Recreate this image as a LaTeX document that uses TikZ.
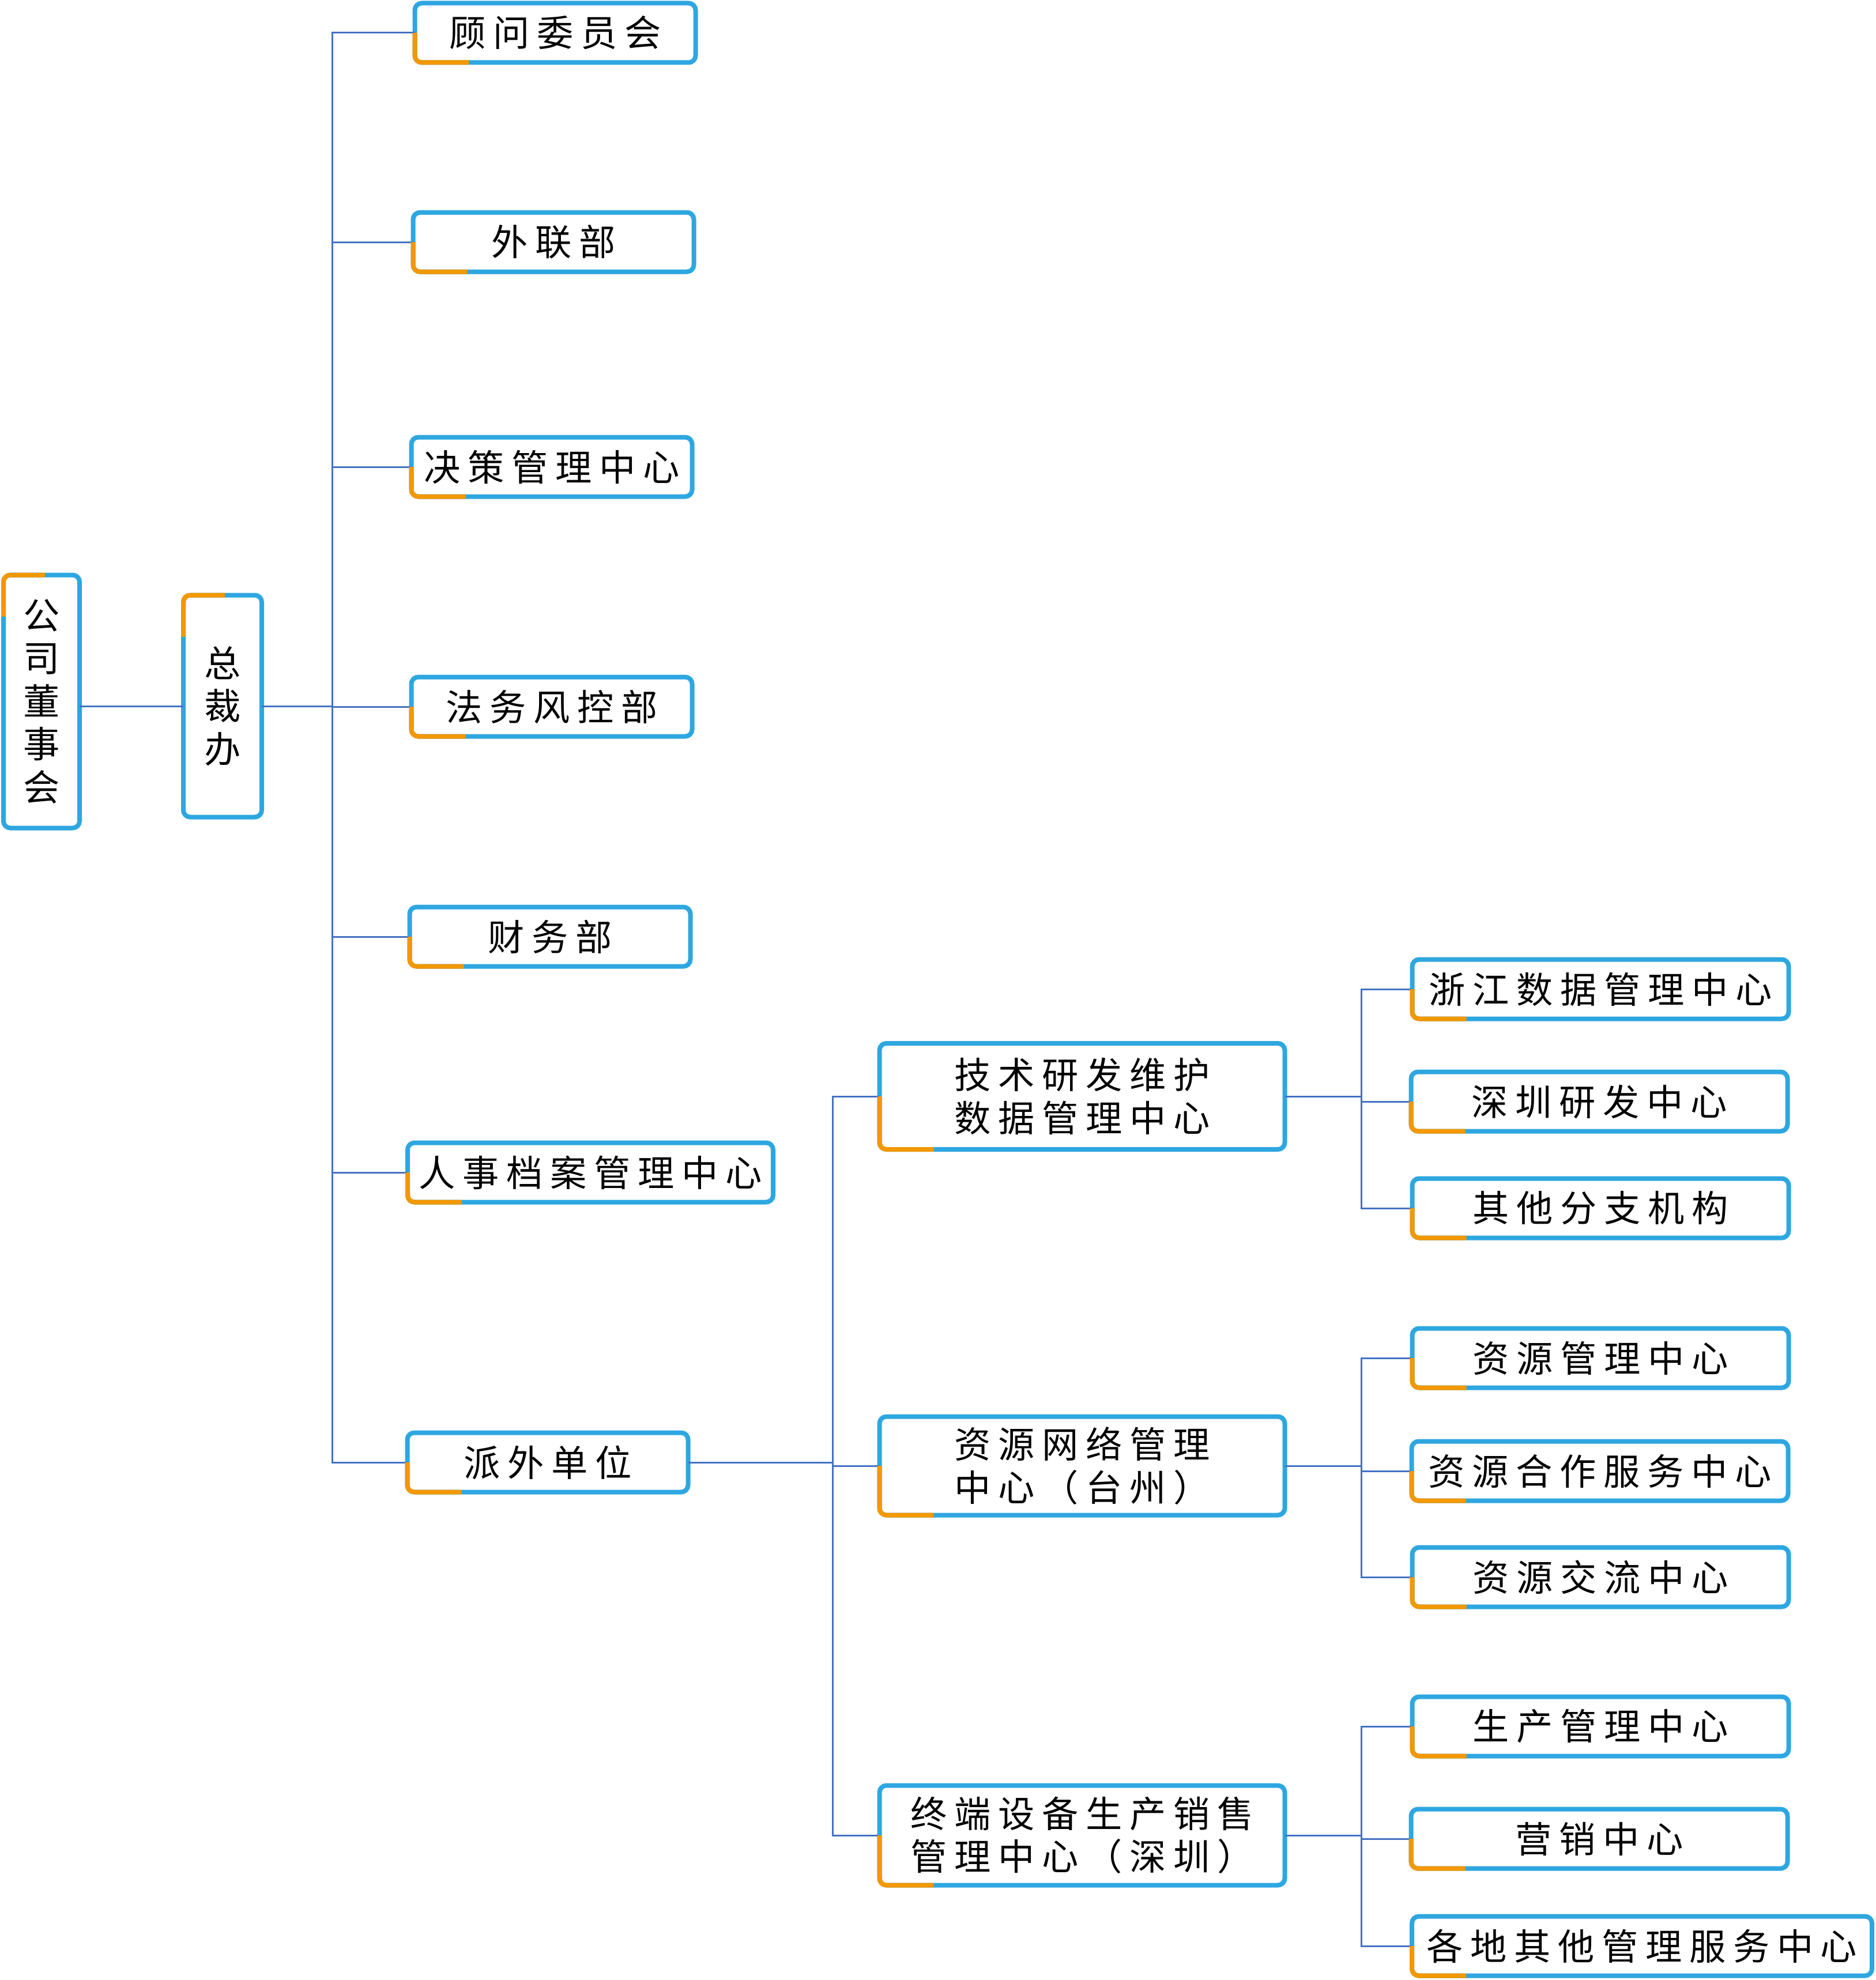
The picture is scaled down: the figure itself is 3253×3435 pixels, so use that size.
\documentclass[tikz,border=0pt]{standalone}
\usepackage{fontspec}
\newfontfamily\cjkfont[LetterSpace=20]{Noto Sans CJK SC}
\newfontfamily\cjkstack{Noto Sans CJK SC}
\definecolor{boxblue}{RGB}{46,167,224}
\definecolor{tagorange}{RGB}{243,152,0}
\definecolor{linkblue}{RGB}{68,114,196}

\begin{document}
\begin{tikzpicture}[x=0.1mm,y=-0.1mm,
		unit/.style={draw=boxblue,line width=0.8mm,rounded corners=1.2mm,fill=white,outer sep=0pt,inner sep=0pt,align=center,font={\fontsize{18pt}{21.2pt}\selectfont\cjkfont}},
		stack/.style={unit,font={\fontsize{18pt}{21.2pt}\selectfont\cjkstack}},
		dept/.style={unit,minimum width=48.7mm,minimum height=10.3mm},
		centre/.style={unit,minimum width=70.3mm},
		branch/.style={unit,minimum width=65.3mm,minimum height=10.3mm},
		link/.style={draw=linkblue,line width=0.3mm},
		tag/.style={draw=tagorange,line width=0.8mm,rounded corners=1.2mm}]

	\useasboundingbox (0,0) rectangle (3253,3435);

	\node[stack,minimum width=13.2mm,minimum height=43.9mm] (board) at (72,1217) {公\\司\\董\\事\\会};
	\node[stack,minimum width=13.6mm,minimum height=38.5mm] (ceo) at (386,1225) {总\\裁\\办};

	\node[dept] (advisor) at (963,57) {顾问委员会};
	\node[dept] (liaison) at (960,420) {外联部};
	\node[dept] (decision) at (957,810) {决策管理中心};
	\node[dept] (legal) at (957,1226) {法务风控部};
	\node[dept] (finance) at (954,1625) {财务部};
	\node[dept,minimum width=63.4mm] (archive) at (1024,2034) {人事档案管理中心};
	\node[dept] (dispatch) at (950,2537) {派外单位};

	\node[centre,minimum height=18.4mm] (tech) at (1877,1902) {技术研发维护\\数据管理中心};
	\node[centre,minimum height=17.1mm] (resnet) at (1877,2543) {资源网络管理\\中心（台州）};
	\node[centre,minimum height=17.3mm] (terminal) at (1877,3184) {终端设备生产销售\\管理中心（深圳）};

	\node[branch] (zjdata) at (2776,1716) {浙江数据管理中心};
	\node[branch] (szrd) at (2774,1911) {深圳研发中心};
	\node[branch] (others) at (2776,2096) {其他分支机构};

	\node[branch] (resmgmt) at (2776,2356) {资源管理中心};
	\node[branch] (rescoop) at (2775,2552) {资源合作服务中心};
	\node[branch] (resexch) at (2776,2736) {资源交流中心};

	\node[branch] (prod) at (2776,2995) {生产管理中心};
	\node[branch] (sales) at (2774,3190) {营销中心};
	\node[branch,minimum width=79.8mm] (regional) at (2848,3376) {各地其他管理服务中心};

	\coordinate (t1) at (ceo.east -| 576,0);
	\coordinate (t2) at (dispatch.east -| 1444,0);
	\coordinate (t3) at (tech.east -| 2361,0);
	\coordinate (t4) at (resnet.east -| 2361,0);
	\coordinate (t5) at (terminal.east -| 2361,0);

	\draw[link] (ceo.west -| board.east) -- (ceo.west);
	\draw[link] (ceo.east) -- (t1);
	\foreach \n in {advisor,liaison,decision,legal,finance,archive,dispatch}
		\draw[link] (t1) |- (\n.west);

	\draw[link] (dispatch.east) -- (t2);
	\foreach \n in {tech,resnet,terminal}
		\draw[link] (t2) |- (\n.west);

	\draw[link] (tech.east) -- (t3);
	\foreach \n in {zjdata,szrd,others}
		\draw[link] (t3) |- (\n.west);
	\draw[link] (resnet.east) -- (t4);
	\foreach \n in {resmgmt,rescoop,resexch}
		\draw[link] (t4) |- (\n.west);
	\draw[link] (terminal.east) -- (t5);
	\foreach \n in {prod,sales,regional}
		\draw[link] (t5) |- (\n.west);

	\foreach \n in {board,ceo}
		\draw[tag] (\n.north west) ++(0,72) -- (\n.north west) -- ++(72,0);
	\foreach \n in {advisor,liaison,decision,legal,finance,archive,dispatch,tech,resnet,terminal,zjdata,szrd,others,resmgmt,rescoop,resexch,prod,sales,regional}
		\draw[tag] (\n.west) -- (\n.south west) -- ++(94,0);

\end{tikzpicture}
\end{document}
